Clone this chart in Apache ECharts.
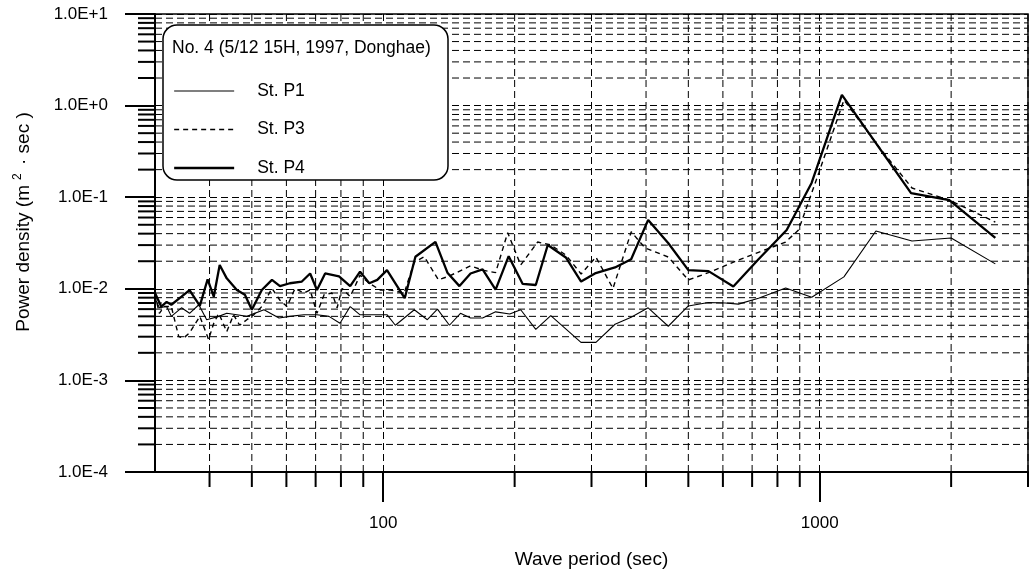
<!DOCTYPE html>
<html>
<head>
<meta charset="utf-8">
<script src="https://cdn.jsdelivr.net/npm/echarts@6/dist/echarts.min.js"></script>
<style>
html,body{margin:0;padding:0;background:#fff;}
#chart{width:1030px;height:577px;}
</style>
</head>
<body>
<div id="chart"></div>
<script>
// ---- data ----
const seriesNames = ['St. P1', 'St. P3', 'St. P4'];
const chartTitle = 'No. 4 (5/12 15H, 1997, Donghae)';
const xTickLabels = [100, 1000];

const p1Period = [30,30.7,31.9,32.7,34.5,36.0,37.8,39.4,42.0,43.8,46.2,48.7,53.3,57.7,61.1,65.8,70.5,75.1,79.6,84.0,88.5,95.3,102.1,106.6,117.8,126.2,133.1,141.8,150.3,158.5,168.9,180.9,194.9,206.5,223.6,242,283.8,307.1,339.6,369.8,404.5,449.8,500,555.6,608,651,724,835.5,958.6,1136,1345,1627,2000,2525];
const p1Value  = [0.0079,0.0062,0.0064,0.0050,0.0062,0.0054,0.0067,0.0046,0.0050,0.0054,0.0052,0.0050,0.0059,0.0048,0.0050,0.0052,0.0052,0.0050,0.0042,0.0064,0.0052,0.0052,0.0052,0.0040,0.0059,0.0046,0.0060,0.0040,0.0054,0.0048,0.0048,0.0056,0.0053,0.0059,0.0036,0.0051,0.0026,0.0026,0.0041,0.0049,0.0062,0.0039,0.0065,0.0071,0.0070,0.0068,0.0079,0.0102,0.0081,0.0135,0.0428,0.0333,0.0359,0.0187];

const p3Period = [30,30.7,31.5,32.7,34.0,34.9,36.0,38.0,39.8,40.9,42.0,43.8,45.4,46.9,48.7,50.5,52.7,55.6,58.0,60.2,62.8,65.8,68.0,70.5,73.2,76.3,78.4,80.5,84.0,88.5,92.9,98.4,103.8,111.7,117.8,124.2,133.8,141.8,158.5,168.9,180.9,192.8,206.5,225.9,242,262,284,307,336,370,398,450,500,556,651,724,835,894,995,1136,1366,1627,1981,2525];
const p3Value  = [0.0086,0.0054,0.0064,0.0064,0.0030,0.0029,0.0033,0.0050,0.0028,0.0042,0.0054,0.0034,0.0052,0.0040,0.0046,0.0052,0.0064,0.0101,0.0075,0.0064,0.0101,0.0090,0.0097,0.0054,0.0086,0.0090,0.0062,0.0101,0.0082,0.0141,0.0115,0.0097,0.0097,0.0090,0.0196,0.0224,0.0125,0.0138,0.0178,0.0160,0.0150,0.0410,0.0182,0.0324,0.0301,0.0234,0.0145,0.0222,0.0101,0.0419,0.0279,0.0222,0.0125,0.0150,0.0206,0.0250,0.0324,0.0438,0.184,1.15,0.353,0.126,0.093,0.0536];

const p4Period = [30,31.0,31.9,32.7,34.5,36.0,38.0,39.6,40.9,42.2,43.8,46.2,48.2,50.0,52.7,55.6,58.0,61.1,65.1,68.0,70.5,73.6,79.2,84.0,88.5,92.9,96.9,102,112,118.5,131.7,140.3,149.5,158.5,168.9,180.9,193.8,208.7,223.6,238.2,262,284,305.5,339.6,369.8,404.5,450,500,556,634,724,840,958,1124,1345,1619,1981,2525];
const p4Value  = [0.0090,0.0064,0.0072,0.0067,0.0082,0.0097,0.0065,0.0127,0.0082,0.0182,0.0130,0.0097,0.0086,0.0059,0.0097,0.0125,0.0107,0.0115,0.0120,0.0147,0.0097,0.0147,0.0137,0.0107,0.0154,0.0115,0.0125,0.0160,0.0079,0.0224,0.0325,0.0150,0.0107,0.0147,0.0163,0.0098,0.0227,0.0113,0.0110,0.0301,0.0220,0.0120,0.0147,0.0171,0.0210,0.0565,0.0314,0.0160,0.0156,0.0106,0.0210,0.0438,0.143,1.31,0.39,0.111,0.093,0.0359];

// ---- axis ranges ----
const xMin = 30, xMax = 3000;
const yMin = 1e-4, yMax = 10;

// minor (2..9 x decade) positions for ticks and dashed grid lines
const xMinor = [];
[10, 100, 1000].forEach(d => { for (let k = 2; k <= 9; k++) { const v = k * d; if (v > xMin && v <= xMax) xMinor.push(v); } });
const yMinor = [];
[1e-4, 1e-3, 1e-2, 1e-1, 1].forEach(d => { for (let k = 2; k <= 9; k++) yMinor.push(k * d); });

const FONT = "'Liberation Sans', Arial, Helvetica, sans-serif";
const pair = (xs, ys) => xs.map((x, i) => [x, ys[i]]);

const minorItems = xMinor.map(v => ({ axis: 'x', v })).concat(yMinor.map(v => ({ axis: 'y', v })));
const gridDash = [7, 4];

function renderMinor(params, api) {
  const it = minorItems[params.dataIndex];
  if (it.axis === 'x') {
    const a = api.coord([it.v, yMax]);
    const b = api.coord([it.v, yMin]);
    return { type: 'group', children: [
      { type: 'line', shape: { x1: a[0], y1: a[1], x2: b[0], y2: b[1] }, style: { stroke: '#000', lineWidth: 1, lineDash: gridDash } },
      { type: 'line', shape: { x1: b[0], y1: b[1], x2: b[0], y2: b[1] + 15 }, style: { stroke: '#000', lineWidth: 2 } }
    ] };
  } else {
    const a = api.coord([xMin, it.v]);
    const b = api.coord([xMax, it.v]);
    return { type: 'group', children: [
      { type: 'line', shape: { x1: a[0], y1: a[1], x2: b[0], y2: b[1] }, style: { stroke: '#000', lineWidth: 1, lineDash: gridDash } },
      { type: 'line', shape: { x1: a[0] - 17, y1: a[1], x2: a[0], y2: a[1] }, style: { stroke: '#000', lineWidth: 2 } }
    ] };
  }
}

const chart = echarts.init(document.getElementById('chart'), null, { renderer: 'canvas' });
chart.setOption({
  backgroundColor: '#fff',
  animation: false,
  textStyle: { fontFamily: FONT, color: '#000' },
  grid: { left: 155, top: 14, right: 2, bottom: 105, show: true, borderColor: '#000', borderWidth: 1.5, backgroundColor: 'transparent' },
  title: {
    text: chartTitle, left: 172, top: 39, padding: 0, z: 12,
    textStyle: { fontFamily: FONT, fontSize: 17.5, fontWeight: 'normal', color: '#000' }
  },
  legend: {
    data: seriesNames, orient: 'vertical', left: 173, top: 82, padding: 0,
    itemWidth: 60, itemHeight: 14, itemGap: 20.5, z: 11,
    itemStyle: { opacity: 0, borderWidth: 0 },
    lineStyle: { width: 'inherit' },
    textStyle: { fontFamily: FONT, fontSize: 17.5, color: '#000', padding: [0, 0, 0, 18] }
  },
  graphic: [{
    type: 'rect', z: 10, silent: true,
    shape: { x: 163, y: 25, width: 285, height: 155, r: 14 },
    style: { fill: '#fff', stroke: '#000', lineWidth: 1.5 }
  }],
  xAxis: {
    type: 'log', logBase: 10, min: xMin, max: xMax,
    name: 'Wave period (sec)', nameLocation: 'middle', nameGap: 78,
    nameTextStyle: { fontFamily: FONT, fontSize: 19, color: '#000' },
    axisLine: { lineStyle: { color: '#000', width: 2 } },
    axisTick: { show: true, length: 30, inside: false, lineStyle: { color: '#000', width: 2 }, customValues: xTickLabels },
    axisLabel: { customValues: xTickLabels, margin: 43, fontFamily: FONT, fontSize: 17, color: '#000', formatter: v => String(Math.round(v)) },
    splitLine: { show: true, lineStyle: { color: '#000', width: 1, type: gridDash } },
    minorTick: { show: false }
  },
  yAxis: {
    type: 'log', logBase: 10, min: yMin, max: yMax,
    name: '{a|Power density (m}{s|2}{a| · sec )}', nameLocation: 'middle', nameGap: 120, nameRotate: 90,
    nameTextStyle: {
      fontFamily: FONT, fontSize: 19, color: '#000', padding: [0, 0, 0, 42],
      rich: {
        a: { fontFamily: FONT, fontSize: 19, color: '#000' },
        s: { fontFamily: FONT, fontSize: 12, color: '#000', padding: [0, 3, 11, 5] }
      }
    },
    axisLine: { lineStyle: { color: '#000', width: 2 } },
    axisTick: { show: true, length: 30, lineStyle: { color: '#000', width: 2 } },
    axisLabel: {
      margin: 47, fontFamily: FONT, fontSize: 17, color: '#000',
      formatter: v => { const e = Math.round(Math.log10(v)); return '1.0E' + (e >= 0 ? '+' : '-') + Math.abs(e); }
    },
    splitLine: { show: true, lineStyle: { color: '#000', width: 1, type: gridDash } },
    minorTick: { show: false }
  },
  series: [
    {
      type: 'custom', name: 'minor', silent: true, z: 1, clip: false,
      renderItem: renderMinor,
      data: minorItems.map(it => it.axis === 'x' ? [it.v, 1] : [100, it.v])
    },
    {
      name: seriesNames[0], type: 'line', data: pair(p1Period, p1Value), symbol: 'none', z: 3,
      lineStyle: { color: '#000', width: 1.1, type: 'solid' }, itemStyle: { color: '#000' }
    },
    {
      name: seriesNames[1], type: 'line', data: pair(p3Period, p3Value), symbol: 'none', z: 3,
      lineStyle: { color: '#000', width: 1.4, type: [5, 4] }, itemStyle: { color: '#000' }
    },
    {
      name: seriesNames[2], type: 'line', data: pair(p4Period, p4Value), symbol: 'none', z: 4,
      lineStyle: { color: '#000', width: 2.3, type: 'solid' }, itemStyle: { color: '#000' }
    }
  ]
});
</script>
</body>
</html>
